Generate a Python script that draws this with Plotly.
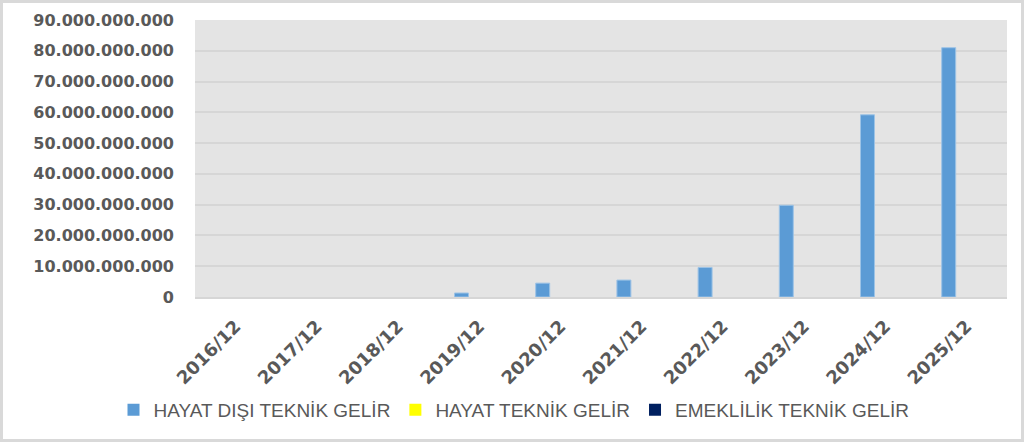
import plotly.graph_objects as go

donemler = ["2016/12", "2017/12", "2018/12", "2019/12", "2020/12",
            "2021/12", "2022/12", "2023/12", "2024/12", "2025/12"]

# values (TL)
hayat_disi = [0, 0, 0, 1.3e9, 4.5e9, 5.5e9, 9.6e9, 29.8e9, 59.2e9, 81.0e9]
hayat = [0, 0, 0, 0, 0, 0, 0, 0, 0, 0]
emeklilik = [0, 0, 0, 0, 0, 0, 0, 0, 0, 0]

W, H = 1024, 442
ML, MR, MT, MB = 195, 17, 20, 145
PW, PH = W - ML - MR, H - MT - MB

gri = "#595959"

fig = go.Figure()
fig.add_trace(go.Bar(
    x=donemler, y=hayat_disi, name="HAYAT DIŞI TEKNİK GELİR",
    marker=dict(color="#5B9BD5",
                line=dict(color="#9DC3E6", width=[1 if v else 0 for v in hayat_disi]))
))
fig.add_trace(go.Bar(
    x=donemler, y=hayat, name="HAYAT TEKNİK GELİR",
    marker=dict(color="#FFFF00", line=dict(width=0))
))
fig.add_trace(go.Bar(
    x=donemler, y=emeklilik, name="EMEKLİLİK TEKNİK GELİR",
    marker=dict(color="#002060", line=dict(width=0))
))

# outer chart border
fig.add_shape(
    type="rect", xref="paper", yref="paper",
    x0=(1.5 - ML) / PW, x1=(W - 1.5 - ML) / PW,
    y0=-(MB - 1.5) / PH, y1=(PH + MT - 1.5) / PH,
    line=dict(color="#D9D9D9", width=3), fillcolor="rgba(0,0,0,0)",
    layer="below"
)

fig.update_layout(
    width=W, height=H,
    margin=dict(l=ML, r=MR, t=MT, b=MB),
    paper_bgcolor="white",
    plot_bgcolor="#E4E4E4",
    separators=",.",
    barmode="group",
    bargap=0.346,
    bargroupgap=0.21,
    showlegend=True,
    legend=dict(
        orientation="h", xanchor="center", yanchor="middle",
        x=(514 - ML) / PW, y=(H - MB - 410) / PH,
        font=dict(family="Liberation Sans, Arial", size=19, color=gri),
        itemwidth=30,
    ),
    font=dict(family="DejaVu Sans", color=gri),
)

fig.update_yaxes(
    range=[0, 9e10], dtick=1e10, tickformat=",d",
    showgrid=True, gridcolor="#D6D6D6", gridwidth=1.5,
    zeroline=False, showline=False,
    ticklabelstandoff=20,
    tickfont=dict(family="DejaVu Sans", size=16, color=gri, weight="bold"),
)
fig.update_xaxes(
    tickangle=-45, showgrid=False,
    showline=True, linecolor="#D6D6D6", linewidth=1.5,
    ticklabelstandoff=10,
    tickfont=dict(family="DejaVu Sans", size=18, color=gri, weight="bold"),
)

# the page body has an 8px default margin; drop it so the chart fills the window
fig.write_html("out.html", config={"displayModeBar": False},
               post_script="document.body.style.margin='0';")
